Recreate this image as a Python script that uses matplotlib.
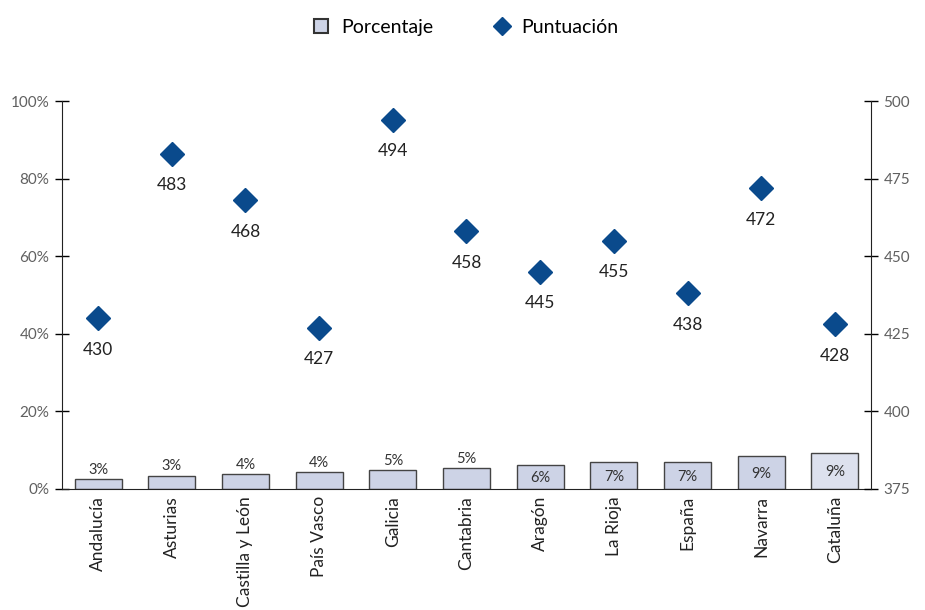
import matplotlib
matplotlib.use("Agg")
import matplotlib.pyplot as plt
from matplotlib.lines import Line2D

plt.rcParams['font.family'] = ['Lato', 'DejaVu Sans']

regions = ["Andalucía", "Asturias", "Castilla y León", "País Vasco", "Galicia",
           "Cantabria", "Aragón", "La Rioja", "España", "Navarra", "Cataluña"]
porcentaje = [2.6, 3.4, 3.8, 4.4, 4.9, 5.3, 6.3, 7.0, 7.0, 8.5, 9.3]
pct_labels = ["3%", "3%", "4%", "4%", "5%", "5%", "6%", "7%", "7%", "9%", "9%"]
puntuacion = [430, 483, 468, 427, 494, 458, 445, 455, 438, 472, 428]

bar_color = "#cdd3e6"
last_color = "#dde1ee"
navy = "#0a4a8c"
text_gray = "#606060"

fig = plt.figure(figsize=(9.25, 6.1), dpi=100)
ax = fig.add_axes([0.067, 0.1984, 0.8746, 0.636])
x = list(range(len(regions)))
colors = [bar_color] * (len(regions) - 1) + [last_color]
ax.bar(x, porcentaje, width=0.64, color=colors, edgecolor="#444444", linewidth=1.0, zorder=2)
for i, (v, lab) in enumerate(zip(porcentaje, pct_labels)):
    if i < 6:
        ax.text(i, v + 0.6, lab, ha="center", va="bottom", fontsize=10.5, color="#333333")
    else:
        ax.text(i, v / 2 - 0.3, lab, ha="center", va="center", fontsize=10.5, color="#333333")

ax.set_xlim(-0.49, 10.49)
ax.set_ylim(0, 100)
ax.set_yticks([0, 20, 40, 60, 80, 100])
ax.set_yticklabels(["0%", "20%", "40%", "60%", "80%", "100%"])
ax.set_xticks(x)
ax.set_xticklabels(regions, rotation=90, fontsize=12.5, color="#222222")
ax.tick_params(axis="x", length=0, pad=5)
ax.tick_params(axis="y", direction="inout", length=10, width=1, labelsize=11,
               labelcolor=text_gray, pad=4)
for s in ["top", "right"]:
    ax.spines[s].set_visible(False)
ax.spines["left"].set_color("#222222")
ax.spines["bottom"].set_color("#222222")

ax2 = ax.twinx()
ax2.set_ylim(375, 500)
ax2.set_yticks([375, 400, 425, 450, 475, 500])
ax2.plot(x, puntuacion, linestyle="none", marker="D", markersize=12,
         color=navy, zorder=3)
for i, v in enumerate(puntuacion):
    ax2.text(i, v - 7.6, str(v), ha="center", va="top", fontsize=12.5, color="#222222")
ax2.tick_params(axis="y", direction="inout", length=10, width=1, labelsize=11,
                labelcolor=text_gray, pad=4)
for s in ["top", "left", "bottom"]:
    ax2.spines[s].set_visible(False)
ax2.spines["right"].set_color("#222222")

handles = [
    Line2D([], [], linestyle="none", marker="s", markersize=10,
           markerfacecolor=bar_color, markeredgecolor="#333333", markeredgewidth=1.5),
    Line2D([], [], linestyle="none", marker="D", markersize=9, color=navy),
]
fig.legend(handles, ["Porcentaje", "Puntuación"], loc="center", bbox_to_anchor=(0.503, 0.955),
           ncol=2, frameon=False, fontsize=14, handlelength=1.0, handletextpad=0.53,
           columnspacing=3.0)

fig.savefig("out.png", dpi=100)
